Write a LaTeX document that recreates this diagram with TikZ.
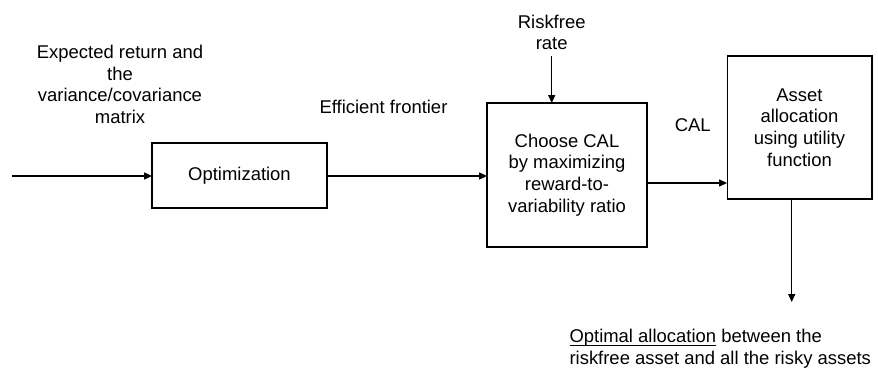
\documentclass[tikz,border=0pt]{standalone}
\usepackage{fontspec}
\setmainfont{Liberation Sans}
\usetikzlibrary{arrows.meta}
\begin{document}
\begin{tikzpicture}[x=.02cm,y=-.02cm,line width=.6pt,
		font=\fontsize{10.5}{12.3}\selectfont,
		box/.style={draw,align=center,inner sep=0pt,outer sep=0pt},
		>={Triangle[length=4.5pt,width=4pt]}]
		\useasboundingbox (0,0) rectangle (878,371);
		% the three stages
		\node at(239.5,175.5)[box,minimum width=3.5cm,minimum height=1.3cm](opt){Optimization};
		\node at(567,175)[box,minimum width=3.2cm,minimum height=2.88cm](cal){Choose CAL\\by maximizing\\reward-to-\\variability ratio};
		\node at(799.5,127.5)[box,minimum width=2.9cm,minimum height=2.86cm](alloc){Asset\\allocation\\using utility\\function};
		% labels round them
		\node at(120,84.5)[align=center](inp){Expected return and\\the\\variance/covariance\\matrix};
		\node at(383.5,106.7)(eff){Efficient frontier};
		\node at(551.7,32.5)[align=center](rf){Riskfree\\rate};
		\node at(692.7,125)(callbl){CAL};
		\node at(569,349)[anchor=west,align=left,inner sep=0pt](res){\underline{\smash{Optimal allocation}} between the\\riskfree asset and all the risky assets};
		\coordinate (start) at(12,176);
		\coordinate (end) at(791.7,302);
		% flow
		\draw[->] (start) -- (start-|opt.west);
		\draw[->] (opt.east|-start) -- (cal.west|-start);
		\draw[->] (rf.south) -- (rf.south|-cal.north);
		\draw[->] (cal.east|-0,183) -- (alloc.west|-0,183);
		\draw[->] (end|-alloc.south) -- (end);
	\end{tikzpicture}
\end{document}
